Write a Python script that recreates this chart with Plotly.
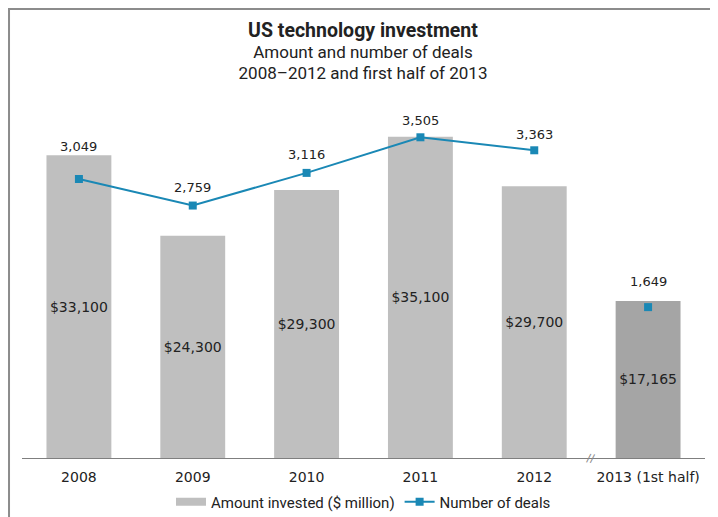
import plotly.graph_objects as go

years = ["2008", "2009", "2010", "2011", "2012", "2013 (1st half)"]
amount = [33100, 24300, 29300, 35100, 29700, 17165]
deals = [3049, 2759, 3116, 3505, 3363, 1649]
amount_labels = ["$33,100", "$24,300", "$29,300", "$35,100", "$29,700", "$17,165"]
deal_labels = ["3,049", "2,759", "3,116", "3,505", "3,363", "1,649"]
# extra lift for the deal labels that sit above the bar tops
label_shift = [33, 18, 18, 17, 16, 26]

bar_colors = ["#bfbfbf"] * 5 + ["#a5a5a5"]
blue = "#1a88b5"
txt = "#222222"
font_main = "DejaVu Sans"

fig = go.Figure()

# bars - amount invested
fig.add_trace(go.Bar(
    x=years, y=amount,
    name="Amount invested ($ million)",
    marker=dict(color=bar_colors, line=dict(width=0)),
    text=amount_labels,
    textposition="inside",
    insidetextanchor="middle",
    constraintext="none",
    textangle=0,
    textfont=dict(family=font_main, size=14, color=txt),
    width=0.57,
    showlegend=False,
))
# legend-only entry so the bar swatch is a wide strip like the original
fig.add_trace(go.Scatter(
    x=[None], y=[None], mode="lines",
    name="Amount invested ($ million)",
    line=dict(color="#bfbfbf", width=8),
))

# line - number of deals (2008-2012 only connected)
fig.add_trace(go.Scatter(
    x=years[:5], y=deals[:5],
    name="Number of deals",
    mode="lines+markers",
    line=dict(color=blue, width=2),
    marker=dict(symbol="square", size=8, color=blue),
    yaxis="y2",
))
fig.add_trace(go.Scatter(
    x=years[5:], y=deals[5:],
    mode="markers",
    marker=dict(symbol="square", size=8, color=blue),
    yaxis="y2",
    showlegend=False,
))

# deal labels (x given as category index so "2008" is not read as a number)
for i, (d, lab, sh) in enumerate(zip(deals, deal_labels, label_shift)):
    fig.add_annotation(
        x=i, y=d, yref="y2", text=lab, showarrow=False,
        yshift=sh, font=dict(family=font_main, size=13, color=txt),
    )

# axis break mark between 2012 and 2013
fig.add_annotation(
    x=4.5, y=0, yref="y", text="//", showarrow=False, textangle=10,
    font=dict(family=font_main, size=11, color="#888888"),
)

# outer frame
fig.add_shape(
    type="rect", xref="paper", yref="paper",
    x0=-0.019, x1=1.013, y0=-0.3, y1=1.227,
    line=dict(color="#8c8c8c", width=2),
)

# page body has an 8px margin, so the figure is 8px smaller each way
fig.update_layout(
    title=dict(
        text="<span style='font-size:19.5px'><b>US technology investment</b></span><br>"
             "<span style='font-size:17px'>Amount and number of deals</span><br>"
             "<span style='font-size:17px'>2008\u20132012 and first half of 2013</span>",
        x=0.5, xanchor="center", y=0.943, yanchor="top",
        font=dict(family="Roboto", size=16, color=txt),
    ),
    width=710, height=509,
    margin=dict(l=14, r=13, t=84, b=59, autoexpand=False),
    plot_bgcolor="white",
    paper_bgcolor="white",
    bargap=0.43,
    xaxis=dict(
        type="category", range=[-0.5, 5.5],
        showline=True, linecolor="#7f7f7f", linewidth=1,
        ticks="", ticklabelstandoff=6,
        tickfont=dict(family=font_main, size=14, color=txt),
        showgrid=False, automargin=False,
    ),
    yaxis=dict(range=[0, 40000], visible=False, showgrid=False),
    yaxis2=dict(range=[0, 4000], overlaying="y", visible=False, showgrid=False),
    legend=dict(
        orientation="h", x=0.5, xanchor="center", y=-0.12, yanchor="middle",
        font=dict(family="Roboto", size=15, color=txt),
        traceorder="normal", itemwidth=30,
    ),
    showlegend=True,
)

fig.write_html("out.html")
